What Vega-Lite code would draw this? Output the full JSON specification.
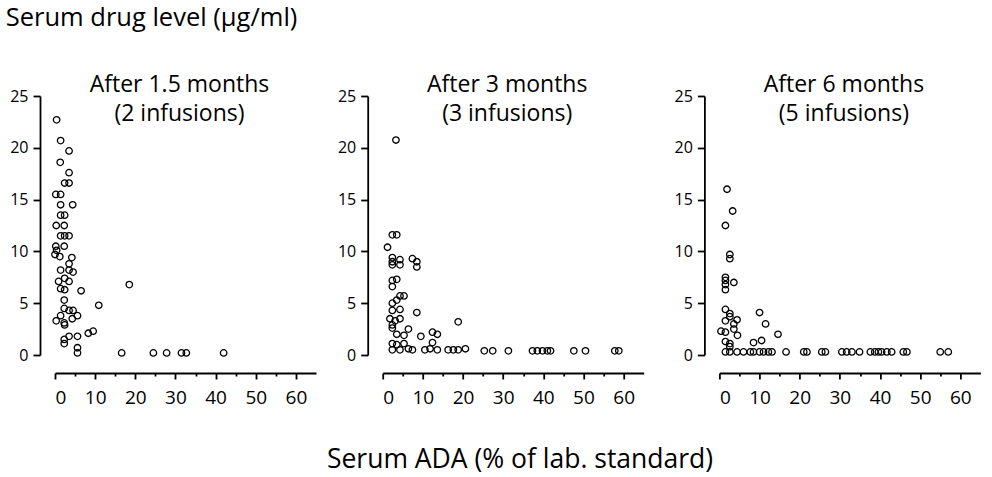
{
  "$schema": "https://vega.github.io/schema/vega-lite/v6.json",
  "background": "white",
  "padding": {"left": 5, "top": 5, "right": 0, "bottom": 0},
  "title": {"text": "Serum drug level (µg/ml)", "anchor": "start", "frame": "bounds", "fontSize": 25.5, "fontWeight": "normal", "color": "black", "offset": 43, "dx": -4},
  "data": {"values": [
    {"panel": 1, "ada": 0.4, "drug": 22.7}, {"panel": 1, "ada": 1.4, "drug": 20.7}, {"panel": 1, "ada": 3.5, "drug": 19.7},
    {"panel": 1, "ada": 1.3, "drug": 18.6}, {"panel": 1, "ada": 3.5, "drug": 17.6}, {"panel": 1, "ada": 2.4, "drug": 16.6},
    {"panel": 1, "ada": 3.5, "drug": 16.6}, {"panel": 1, "ada": 0.2, "drug": 15.5}, {"panel": 1, "ada": 1.4, "drug": 15.5},
    {"panel": 1, "ada": 1.4, "drug": 14.5}, {"panel": 1, "ada": 4.4, "drug": 14.5}, {"panel": 1, "ada": 1.4, "drug": 13.5},
    {"panel": 1, "ada": 2.4, "drug": 13.5}, {"panel": 1, "ada": 0.3, "drug": 12.5}, {"panel": 1, "ada": 2.3, "drug": 12.5},
    {"panel": 1, "ada": 1.4, "drug": 11.5}, {"panel": 1, "ada": 2.4, "drug": 11.5}, {"panel": 1, "ada": 3.5, "drug": 11.5},
    {"panel": 1, "ada": 0.2, "drug": 10.5}, {"panel": 1, "ada": 2.3, "drug": 10.5}, {"panel": 1, "ada": 0.4, "drug": 10.1},
    {"panel": 1, "ada": 0.0, "drug": 9.7}, {"panel": 1, "ada": 1.2, "drug": 9.5}, {"panel": 1, "ada": 4.2, "drug": 9.4},
    {"panel": 1, "ada": 3.5, "drug": 8.8}, {"panel": 1, "ada": 1.4, "drug": 8.2}, {"panel": 1, "ada": 3.5, "drug": 8.2},
    {"panel": 1, "ada": 4.5, "drug": 8.0}, {"panel": 1, "ada": 2.4, "drug": 7.4}, {"panel": 1, "ada": 0.9, "drug": 7.1},
    {"panel": 1, "ada": 3.5, "drug": 7.1}, {"panel": 1, "ada": 1.4, "drug": 6.4}, {"panel": 1, "ada": 2.4, "drug": 6.3},
    {"panel": 1, "ada": 6.5, "drug": 6.2}, {"panel": 1, "ada": 18.5, "drug": 6.8}, {"panel": 1, "ada": 2.3, "drug": 5.3},
    {"panel": 1, "ada": 10.9, "drug": 4.8}, {"panel": 1, "ada": 2.3, "drug": 4.5}, {"panel": 1, "ada": 3.5, "drug": 4.3},
    {"panel": 1, "ada": 4.5, "drug": 4.3}, {"panel": 1, "ada": 5.6, "drug": 3.8}, {"panel": 1, "ada": 1.4, "drug": 3.8},
    {"panel": 1, "ada": 0.3, "drug": 3.3}, {"panel": 1, "ada": 2.3, "drug": 3.1}, {"panel": 1, "ada": 2.4, "drug": 2.9},
    {"panel": 1, "ada": 4.3, "drug": 3.5}, {"panel": 1, "ada": 3.5, "drug": 1.8}, {"panel": 1, "ada": 5.6, "drug": 1.8},
    {"panel": 1, "ada": 2.3, "drug": 1.5}, {"panel": 1, "ada": 2.3, "drug": 1.1}, {"panel": 1, "ada": 8.3, "drug": 2.1},
    {"panel": 1, "ada": 9.5, "drug": 2.3}, {"panel": 1, "ada": 5.6, "drug": 0.7}, {"panel": 1, "ada": 5.6, "drug": 0.2},
    {"panel": 1, "ada": 16.6, "drug": 0.2}, {"panel": 1, "ada": 24.5, "drug": 0.2}, {"panel": 1, "ada": 27.8, "drug": 0.2},
    {"panel": 1, "ada": 31.5, "drug": 0.2}, {"panel": 1, "ada": 32.7, "drug": 0.2}, {"panel": 1, "ada": 42.0, "drug": 0.2},

    {"panel": 2, "ada": 3.3, "drug": 20.75}, {"panel": 2, "ada": 2.4, "drug": 11.6}, {"panel": 2, "ada": 3.5, "drug": 11.6},
    {"panel": 2, "ada": 1.2, "drug": 10.4}, {"panel": 2, "ada": 2.4, "drug": 9.4}, {"panel": 2, "ada": 2.4, "drug": 9.0},
    {"panel": 2, "ada": 2.4, "drug": 8.7}, {"panel": 2, "ada": 4.3, "drug": 9.2}, {"panel": 2, "ada": 4.3, "drug": 8.7},
    {"panel": 2, "ada": 7.4, "drug": 9.3}, {"panel": 2, "ada": 8.5, "drug": 9.0}, {"panel": 2, "ada": 8.5, "drug": 8.5},
    {"panel": 2, "ada": 2.4, "drug": 7.2}, {"panel": 2, "ada": 3.5, "drug": 7.3}, {"panel": 2, "ada": 2.4, "drug": 6.6},
    {"panel": 2, "ada": 4.3, "drug": 5.7}, {"panel": 2, "ada": 5.3, "drug": 5.7}, {"panel": 2, "ada": 2.4, "drug": 5.0},
    {"panel": 2, "ada": 3.5, "drug": 5.3}, {"panel": 2, "ada": 4.3, "drug": 4.4}, {"panel": 2, "ada": 2.4, "drug": 4.3},
    {"panel": 2, "ada": 8.5, "drug": 4.1}, {"panel": 2, "ada": 1.8, "drug": 3.5}, {"panel": 2, "ada": 3.1, "drug": 3.3},
    {"panel": 2, "ada": 4.3, "drug": 3.5}, {"panel": 2, "ada": 2.4, "drug": 2.9}, {"panel": 2, "ada": 2.4, "drug": 2.6},
    {"panel": 2, "ada": 6.4, "drug": 2.5}, {"panel": 2, "ada": 3.5, "drug": 2.0}, {"panel": 2, "ada": 5.3, "drug": 1.9},
    {"panel": 2, "ada": 9.5, "drug": 1.8}, {"panel": 2, "ada": 12.4, "drug": 2.2}, {"panel": 2, "ada": 13.6, "drug": 2.0},
    {"panel": 2, "ada": 12.4, "drug": 1.2}, {"panel": 2, "ada": 2.4, "drug": 1.1}, {"panel": 2, "ada": 3.5, "drug": 1.0},
    {"panel": 2, "ada": 5.3, "drug": 1.1}, {"panel": 2, "ada": 2.4, "drug": 0.5}, {"panel": 2, "ada": 4.3, "drug": 0.5},
    {"panel": 2, "ada": 6.4, "drug": 0.6}, {"panel": 2, "ada": 7.4, "drug": 0.5}, {"panel": 2, "ada": 10.5, "drug": 0.5},
    {"panel": 2, "ada": 11.8, "drug": 0.6}, {"panel": 2, "ada": 13.6, "drug": 0.5}, {"panel": 2, "ada": 16.3, "drug": 0.5},
    {"panel": 2, "ada": 17.6, "drug": 0.5}, {"panel": 2, "ada": 18.8, "drug": 0.5}, {"panel": 2, "ada": 20.6, "drug": 0.6},
    {"panel": 2, "ada": 18.8, "drug": 3.2}, {"panel": 2, "ada": 25.3, "drug": 0.4}, {"panel": 2, "ada": 27.4, "drug": 0.4},
    {"panel": 2, "ada": 31.3, "drug": 0.4}, {"panel": 2, "ada": 37.3, "drug": 0.4}, {"panel": 2, "ada": 38.5, "drug": 0.4},
    {"panel": 2, "ada": 39.8, "drug": 0.4}, {"panel": 2, "ada": 41.0, "drug": 0.4}, {"panel": 2, "ada": 41.8, "drug": 0.4},
    {"panel": 2, "ada": 47.6, "drug": 0.4}, {"panel": 2, "ada": 50.5, "drug": 0.4}, {"panel": 2, "ada": 57.8, "drug": 0.4},
    {"panel": 2, "ada": 58.8, "drug": 0.4},

    {"panel": 3, "ada": 1.9, "drug": 16.0}, {"panel": 3, "ada": 3.3, "drug": 13.9}, {"panel": 3, "ada": 1.5, "drug": 12.5},
    {"panel": 3, "ada": 2.6, "drug": 9.7}, {"panel": 3, "ada": 2.6, "drug": 9.3}, {"panel": 3, "ada": 1.5, "drug": 7.5},
    {"panel": 3, "ada": 1.5, "drug": 7.2}, {"panel": 3, "ada": 1.5, "drug": 6.8}, {"panel": 3, "ada": 3.6, "drug": 7.0},
    {"panel": 3, "ada": 1.5, "drug": 6.3}, {"panel": 3, "ada": 1.5, "drug": 4.4}, {"panel": 3, "ada": 2.6, "drug": 4.0},
    {"panel": 3, "ada": 2.6, "drug": 3.7}, {"panel": 3, "ada": 1.5, "drug": 3.3}, {"panel": 3, "ada": 4.4, "drug": 3.4},
    {"panel": 3, "ada": 3.6, "drug": 3.0}, {"panel": 3, "ada": 0.4, "drug": 2.3}, {"panel": 3, "ada": 1.5, "drug": 2.2},
    {"panel": 3, "ada": 3.6, "drug": 2.5}, {"panel": 3, "ada": 4.5, "drug": 1.9}, {"panel": 3, "ada": 1.5, "drug": 1.3},
    {"panel": 3, "ada": 2.6, "drug": 1.1}, {"panel": 3, "ada": 2.6, "drug": 0.8}, {"panel": 3, "ada": 10.0, "drug": 4.1},
    {"panel": 3, "ada": 11.5, "drug": 3.0}, {"panel": 3, "ada": 14.6, "drug": 2.0}, {"panel": 3, "ada": 8.5, "drug": 1.2},
    {"panel": 3, "ada": 10.5, "drug": 1.4},
    {"panel": 3, "ada": 1.5, "drug": 0.3}, {"panel": 3, "ada": 2.6, "drug": 0.3}, {"panel": 3, "ada": 4.4, "drug": 0.3},
    {"panel": 3, "ada": 6.0, "drug": 0.3}, {"panel": 3, "ada": 7.7, "drug": 0.3}, {"panel": 3, "ada": 8.5, "drug": 0.3},
    {"panel": 3, "ada": 10.0, "drug": 0.3}, {"panel": 3, "ada": 11.0, "drug": 0.3}, {"panel": 3, "ada": 12.2, "drug": 0.3},
    {"panel": 3, "ada": 13.1, "drug": 0.3}, {"panel": 3, "ada": 16.6, "drug": 0.3}, {"panel": 3, "ada": 21.0, "drug": 0.3},
    {"panel": 3, "ada": 21.8, "drug": 0.3}, {"panel": 3, "ada": 25.5, "drug": 0.3}, {"panel": 3, "ada": 26.4, "drug": 0.3},
    {"panel": 3, "ada": 30.5, "drug": 0.3}, {"panel": 3, "ada": 31.7, "drug": 0.3}, {"panel": 3, "ada": 33.0, "drug": 0.3},
    {"panel": 3, "ada": 34.9, "drug": 0.3}, {"panel": 3, "ada": 37.6, "drug": 0.3}, {"panel": 3, "ada": 38.7, "drug": 0.3},
    {"panel": 3, "ada": 39.6, "drug": 0.3}, {"panel": 3, "ada": 40.4, "drug": 0.3}, {"panel": 3, "ada": 41.7, "drug": 0.3},
    {"panel": 3, "ada": 42.9, "drug": 0.3}, {"panel": 3, "ada": 45.8, "drug": 0.3}, {"panel": 3, "ada": 46.7, "drug": 0.3},
    {"panel": 3, "ada": 55.0, "drug": 0.3}, {"panel": 3, "ada": 57.0, "drug": 0.3}
  ]},
  "vconcat": [
    {
      "title": {"text": "Serum ADA (% of lab. standard)", "orient": "bottom", "anchor": "middle", "fontSize": 26.5, "fontWeight": "normal", "color": "black", "offset": 40, "dx": 25},
      "bounds": "full",
      "spacing": 20.7,
      "hconcat": [
        {
          "width": 261, "height": 259,
          "title": {"text": ["After 1.5 months", "(2 infusions)"], "fontSize": 23, "fontWeight": "normal", "color": "black", "lineHeight": 29, "offset": -38, "dx": -6},
          "transform": [{"filter": "datum.panel == 1"}],
          "layer": [
            {
              "mark": {"type": "point", "shape": "circle", "filled": false, "stroke": "black", "strokeWidth": 1.3, "size": 42, "opacity": 1},
              "encoding": {
                "x": {"field": "ada", "type": "quantitative", "scale": {"domain": [0, 65], "nice": false},
                      "axis": {"values": [0, 10, 20, 30, 40, 50, 60], "title": null, "offset": 18, "tickSize": 6, "labelFontSize": 19, "labelPadding": 9}},
                "y": {"field": "drug", "type": "quantitative", "scale": {"domain": [0, 25], "nice": false},
                      "axis": {"values": [0, 5, 10, 15, 20, 25], "title": null, "offset": 15, "tickSize": 7, "labelFontSize": 16, "labelPadding": 5}}
              }
            },
            {
              "mark": {"type": "point", "opacity": 0},
              "encoding": {
                "x": {"field": "ada", "type": "quantitative",
                      "axis": {"orient": "bottom", "values": [5, 15, 25, 35, 45, 55], "labels": false, "domain": false, "tickSize": 3, "offset": 18, "title": null}}
              }
            }
          ],
          "resolve": {"axis": {"x": "independent"}}
        },
        {
          "width": 261, "height": 259,
          "title": {"text": ["After 3 months", "(3 infusions)"], "fontSize": 23, "fontWeight": "normal", "color": "black", "lineHeight": 29, "offset": -38, "dx": -6},
          "transform": [{"filter": "datum.panel == 2"}],
          "layer": [
            {
              "mark": {"type": "point", "shape": "circle", "filled": false, "stroke": "black", "strokeWidth": 1.3, "size": 42, "opacity": 1},
              "encoding": {
                "x": {"field": "ada", "type": "quantitative", "scale": {"domain": [0, 65], "nice": false},
                      "axis": {"values": [0, 10, 20, 30, 40, 50, 60], "title": null, "offset": 18, "tickSize": 6, "labelFontSize": 19, "labelPadding": 9}},
                "y": {"field": "drug", "type": "quantitative", "scale": {"domain": [0, 25], "nice": false},
                      "axis": {"values": [0, 5, 10, 15, 20, 25], "title": null, "offset": 15, "tickSize": 7, "labelFontSize": 16, "labelPadding": 5}}
              }
            },
            {
              "mark": {"type": "point", "opacity": 0},
              "encoding": {
                "x": {"field": "ada", "type": "quantitative",
                      "axis": {"orient": "bottom", "values": [5, 15, 25, 35, 45, 55], "labels": false, "domain": false, "tickSize": 3, "offset": 18, "title": null}}
              }
            }
          ],
          "resolve": {"axis": {"x": "independent"}}
        },
        {
          "width": 261, "height": 259,
          "title": {"text": ["After 6 months", "(5 infusions)"], "fontSize": 23, "fontWeight": "normal", "color": "black", "lineHeight": 29, "offset": -38, "dx": -6},
          "transform": [{"filter": "datum.panel == 3"}],
          "layer": [
            {
              "mark": {"type": "point", "shape": "circle", "filled": false, "stroke": "black", "strokeWidth": 1.3, "size": 42, "opacity": 1},
              "encoding": {
                "x": {"field": "ada", "type": "quantitative", "scale": {"domain": [0, 65], "nice": false},
                      "axis": {"values": [0, 10, 20, 30, 40, 50, 60], "title": null, "offset": 18, "tickSize": 6, "labelFontSize": 19, "labelPadding": 9}},
                "y": {"field": "drug", "type": "quantitative", "scale": {"domain": [0, 25], "nice": false},
                      "axis": {"values": [0, 5, 10, 15, 20, 25], "title": ".", "titleOpacity": 0, "titleFontSize": 6, "titlePadding": 3, "offset": 15, "tickSize": 7, "labelFontSize": 16, "labelPadding": 5}}
              }
            },
            {
              "mark": {"type": "point", "opacity": 0},
              "encoding": {
                "x": {"field": "ada", "type": "quantitative",
                      "axis": {"orient": "bottom", "values": [5, 15, 25, 35, 45, 55], "labels": false, "domain": false, "tickSize": 3, "offset": 18, "title": null}}
              }
            }
          ],
          "resolve": {"axis": {"x": "independent"}}
        }
      ]
    }
  ],
  "config": {
    "font": "Open Sans",
    "view": {"stroke": null},
    "axis": {"grid": false, "domainColor": "black", "domainWidth": 1.8, "tickColor": "black", "tickWidth": 1.8, "labelColor": "black", "titleColor": "black", "labelFont": "Open Sans", "titleFont": "Open Sans"},
    "title": {"font": "Open Sans"}
  }
}
